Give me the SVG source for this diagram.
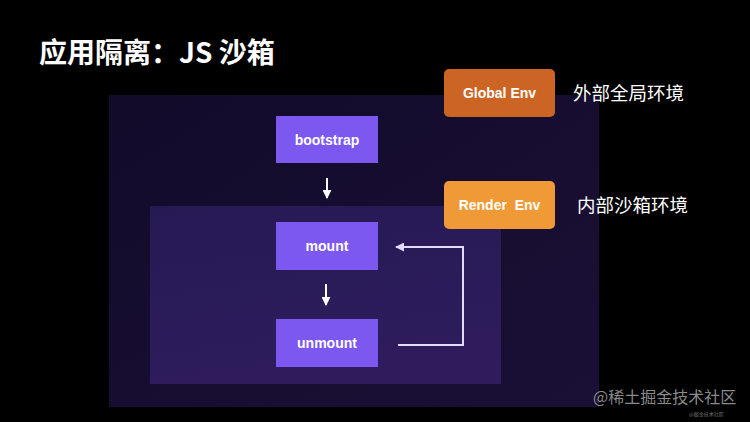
<svg xmlns="http://www.w3.org/2000/svg" width="750" height="422" viewBox="0 0 750 422">
<defs>
<linearGradient id="outerG" x1="0" y1="0" x2="1" y2="1">
<stop offset="0" stop-color="#120b2a"/>
<stop offset="1" stop-color="#1a1036"/>
</linearGradient>
<linearGradient id="innerG" x1="0" y1="0" x2="0.3" y2="1">
<stop offset="0" stop-color="#261a55"/>
<stop offset="1" stop-color="#2e1c5c"/>
</linearGradient>
<marker id="ahW" viewBox="0 0 10 10" refX="9" refY="5" markerWidth="4.5" markerHeight="4.5" orient="auto">
<path d="M0,0 L10,5 L0,10 z" fill="#ffffff"/>
</marker>
<marker id="ahL" viewBox="0 0 10 10" refX="9" refY="5" markerWidth="4.5" markerHeight="4.5" orient="auto">
<path d="M0,0 L10,5 L0,10 z" fill="#e2dbf9"/>
</marker>
<style>
.step{fill:#7c58f1}
.lbl{font-family:"Liberation Sans",Arial,sans-serif;font-weight:bold;font-size:14px;fill:#ffffff;text-anchor:middle}
.cn{font-family:"Noto Sans CJK SC","Noto Sans",sans-serif;font-size:18.5px;fill:#ffffff}
.conn{fill:none;stroke-width:2}
</style>
</defs>
<rect width="750" height="422" fill="#000000"/>
<text x="39" y="63" font-family="'Noto Sans CJK SC','Liberation Sans',sans-serif" font-weight="bold" font-size="28" fill="#ffffff">应用隔离：JS 沙箱</text>
<rect id="outer-panel" x="109" y="95" width="490" height="312" fill="url(#outerG)"/>
<rect id="inner-panel" x="150" y="206" width="351" height="178" fill="url(#innerG)"/>
<g id="bootstrap"><rect class="step" x="276" y="116" width="102" height="47"/><text class="lbl" x="327" y="144.5">bootstrap</text></g>
<g id="mount"><rect class="step" x="276" y="222" width="102" height="48"/><text class="lbl" x="327" y="251">mount</text></g>
<g id="unmount"><rect class="step" x="276" y="319" width="102" height="48"/><text class="lbl" x="327" y="348">unmount</text></g>
<g id="global-env"><rect x="444" y="69" width="111" height="48" rx="5" fill="#cc6523"/><text class="lbl" x="499.5" y="98">Global Env</text></g>
<g id="render-env"><rect x="444" y="181" width="111" height="48" rx="5" fill="#ef9a36"/><text class="lbl" x="499.5" y="210" xml:space="preserve">Render  Env</text></g>
<g id="connectors">
<line class="conn" x1="327" y1="178" x2="327" y2="198" stroke="#ffffff" marker-end="url(#ahW)"/>
<line class="conn" x1="326" y1="284" x2="326" y2="305" stroke="#ffffff" marker-end="url(#ahW)"/>
<polyline class="conn" points="398,345 463,345 463,247 396,247" stroke="#e2dbf9" marker-end="url(#ahL)"/>
</g>
<text class="cn" x="573" y="100">外部全局环境</text>
<text class="cn" x="577" y="212">内部沙箱环境</text>
<text x="593" y="403" font-family="'Noto Sans CJK SC',sans-serif" font-size="16" fill="#8a8a8a">@稀土掘金技术社区</text>
<text x="689" y="416" font-family="'Noto Sans CJK SC',sans-serif" font-size="5" fill="#777777">@掘金技术社区</text>
</svg>
